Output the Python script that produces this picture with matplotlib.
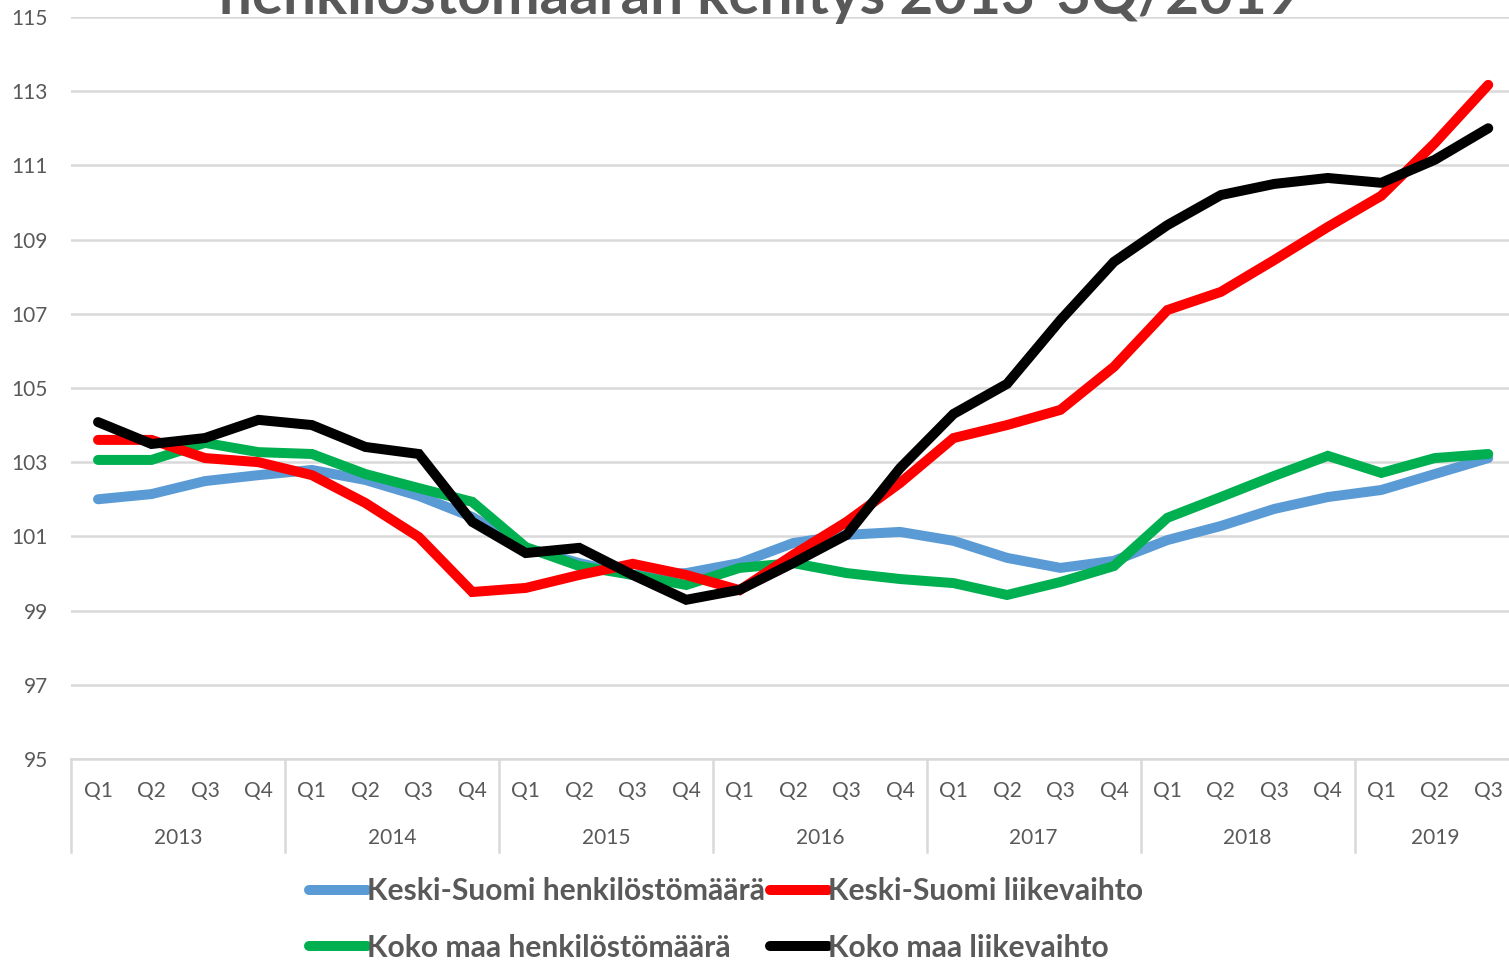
import matplotlib
matplotlib.use("Agg")
from matplotlib import pyplot as plt

plt.rcParams['font.family'] = ['Lato', 'DejaVu Sans']

# Data
years = ["2013", "2014", "2015", "2016", "2017", "2018", "2019"]
quarters_per_year = [4, 4, 4, 4, 4, 4, 3]
quarter_names = ["Q1", "Q2", "Q3", "Q4"]

ks_henkilosto = [102.0, 102.14, 102.49, 102.65, 102.79, 102.52, 102.09, 101.52,
                 100.69, 100.28, 99.96, 100.01, 100.28, 100.82, 101.04, 101.12,
                 100.88, 100.42, 100.15, 100.34, 100.9, 101.28, 101.74, 102.06,
                 102.25, 102.68, 103.11]
ks_liikevaihto = [103.6, 103.6, 103.11, 103.0, 102.65, 101.9, 100.98, 99.5,
                  99.61, 99.96, 100.26, 99.96, 99.55, 100.5, 101.39, 102.44,
                  103.65, 104.0, 104.41, 105.57, 107.1, 107.59, 108.45, 109.34,
                  110.18, 111.6, 113.17]
km_henkilosto = [103.06, 103.06, 103.52, 103.27, 103.22, 102.68, 102.3, 101.93,
                 100.71, 100.2, 99.96, 99.69, 100.15, 100.28, 100.01, 99.85,
                 99.74, 99.42, 99.77, 100.2, 101.5, 102.06, 102.63, 103.17,
                 102.71, 103.11, 103.22]
km_liikevaihto = [104.08, 103.49, 103.65, 104.14, 104.0, 103.41, 103.22, 101.39,
                  100.55, 100.69, 99.96, 99.29, 99.56, 100.28, 101.04, 102.84,
                  104.3, 105.11, 106.83, 108.4, 109.39, 110.2, 110.5, 110.66,
                  110.53, 111.15, 112.0]

series = [
    ("Keski-Suomi henkilöstömäärä", ks_henkilosto, "#5b9bd5"),
    ("Koko maa henkilöstömäärä", km_henkilosto, "#00b050"),
    ("Keski-Suomi liikevaihto", ks_liikevaihto, "#ff0000"),
    ("Koko maa liikevaihto", km_liikevaihto, "#000000"),
]

labels_q = []
for n in quarters_per_year:
    labels_q += quarter_names[:n]
x = list(range(len(labels_q)))

grey = "#595959"
gridc = "#d9d9d9"

fig = plt.figure(figsize=(15.09, 9.64), dpi=100)
ax = fig.add_axes([0.04725, 0.2127, 0.9567, 0.7697])

# piirto: sininen, vihreä, punainen, musta
for i, (name, vals, col) in enumerate(series):
    ax.plot(x, vals, color=col, lw=7.2, solid_capstyle="round",
            solid_joinstyle="miter", label=name, zorder=3 + i)

ax.set_xlim(-0.5, len(x) - 0.5)
ax.set_ylim(95, 115)
ax.set_yticks(range(95, 116, 2))
ax.yaxis.grid(True, color=gridc, lw=1.8)
ax.set_axisbelow(True)
ax.tick_params(axis="y", length=0, pad=17, labelsize=15, labelcolor=grey)
for s in ["left", "right", "top"]:
    ax.spines[s].set_visible(False)
ax.spines["bottom"].set_color(gridc)
ax.spines["bottom"].set_linewidth(1.8)

ax.set_xticks(x)
ax.set_xticklabels(labels_q)
ax.tick_params(axis="x", length=0, pad=16, labelsize=15, labelcolor=grey)

# vuosien erottimet ja nimet
trans = ax.get_xaxis_transform()
start = 0
bounds = [-0.5]
for yr, n in zip(years, quarters_per_year):
    mid = start + (n - 1) / 2
    ax.text(mid, -0.107, yr, transform=trans, ha="center", va="center",
            fontsize=15, color=grey)
    start += n
    bounds.append(start - 0.5)
for b in bounds[:-1]:
    ax.plot([b, b], [0, -0.126], transform=trans, color=gridc, lw=1.8,
            clip_on=False)

# otsikko on kuvassa osittain rajattu yläreunasta
fig.text(0.5036, 0.9855, "henkilöstömäärän kehitys 2013-3Q/2019",
         ha="center", va="baseline", fontsize=42, fontweight="bold", color=grey)

leg = fig.legend(loc="center", bbox_to_anchor=(0.481, 0.046), ncol=2,
                 frameon=False, fontsize=21.6, handlelength=1.95,
                 handletextpad=0.0, columnspacing=0.15, labelspacing=0.95,
                 borderpad=0.2)
for t in leg.get_texts():
    t.set_color(grey)
    t.set_fontweight("bold")

fig.savefig("out.png", dpi=100)
